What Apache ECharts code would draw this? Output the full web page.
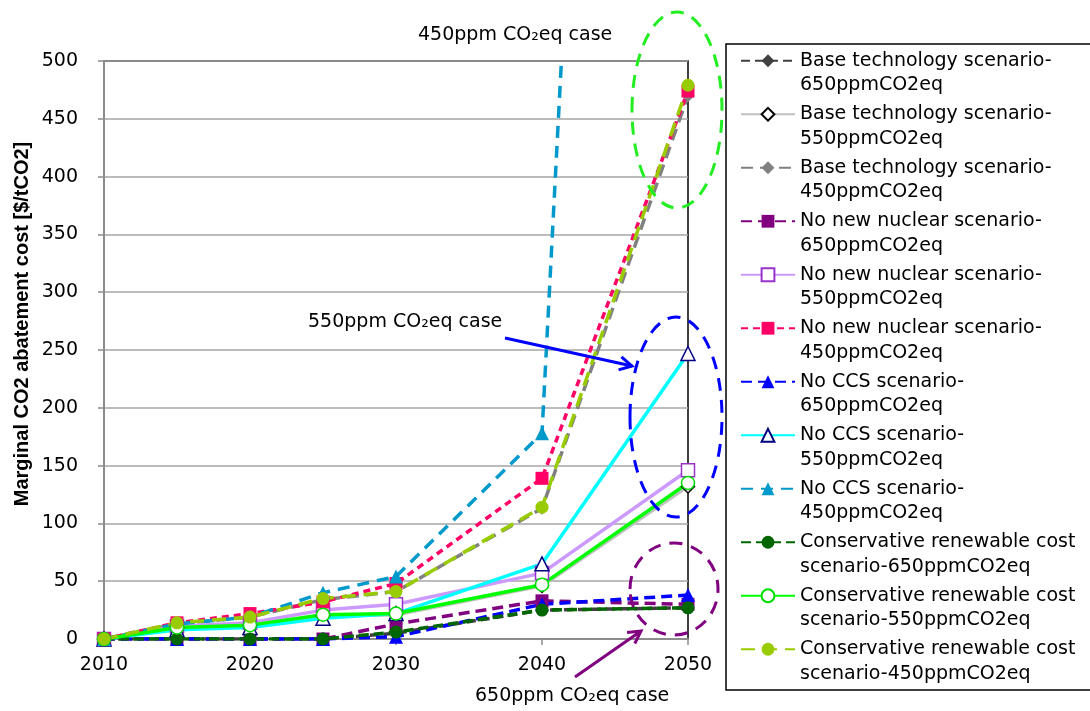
<!DOCTYPE html>
<html>
<head>
<meta charset="utf-8">
<style>
  html, body { margin: 0; padding: 0; background: #fff; }
  #chart { width: 1090px; height: 711px; }
</style>
<script src="https://cdn.jsdelivr.net/npm/echarts@6/dist/echarts.min.js"></script>
</head>
<body>
<div id="chart"></div>
<script>
// Years on the horizontal axis
const years = [2010, 2015, 2020, 2025, 2030, 2040, 2050];
const xTicks = [2010, 2020, 2030, 2040, 2050];

// Marginal CO2 abatement cost [$/tCO2] per scenario
const base650 = [0, 0, 0, 0, 5, 25, 27];
const base550 = [0, 10, 12, 20, 21, 46, 132];
const base450 = [0, 13, 19, 34, 41, 113, 470];
const nuc650  = [0, 0, 0, 0, 13, 33, 30];
const nuc550  = [0, 11, 14, 25, 30, 57, 146];
const nuc450  = [0, 14, 22, 32, 48, 139, 474];
const ccs650  = [0, 0, 0, 0, 2, 30, 38];
const ccs550  = [0, 8, 10, 18, 22, 65, 247];
const ccs450  = [0, 13, 19, 40, 54, 178, 2600];
const ren650  = [0, 0, 0, 0, 6, 25, 27];
const ren550  = [0, 10, 12, 21, 22, 47, 135];
const ren450  = [0, 14, 19, 35, 41, 114, 479];

const FONT = 'DejaVu Sans';

function pairs(vals) { return years.map((y, i) => [y, vals[i]]); }

function mkSeries(name, vals, lineColor, dash, symbol, fill, border) {
  return {
    name: name,
    type: 'line',
    data: pairs(vals),
    symbol: symbol,
    symbolSize: symbol === 'triangle' ? 14 : 13,
    clip: true,
    lineStyle: { color: lineColor, width: 3.5, type: dash },
    itemStyle: { color: fill, borderColor: border, borderWidth: border === fill ? 0 : 1.5 },
    emphasis: { disabled: true }
  };
}

const series = [
  mkSeries('Base technology scenario-650ppmCO2eq', base650, '#404040', [9, 5], 'diamond', '#404040', '#404040'),
  mkSeries('Base technology scenario-550ppmCO2eq', base550, '#c0c0c0', 'solid', 'diamond', '#ffffff', '#000000'),
  mkSeries('Base technology scenario-450ppmCO2eq', base450, '#808080', [12, 7], 'diamond', '#808080', '#808080'),
  mkSeries('No new nuclear scenario-650ppmCO2eq', nuc650, '#800080', [11, 6], 'rect', '#800080', '#800080'),
  mkSeries('No new nuclear scenario-550ppmCO2eq', nuc550, '#cc99ff', 'solid', 'rect', '#ffffff', '#9933cc'),
  mkSeries('No new nuclear scenario-450ppmCO2eq', nuc450, '#ff0066', [7, 5], 'rect', '#ff0066', '#ff0066'),
  mkSeries('No CCS scenario-650ppmCO2eq', ccs650, '#0000ff', [11, 6], 'triangle', '#0000ff', '#0000ff'),
  mkSeries('No CCS scenario-550ppmCO2eq', ccs550, '#00ffff', 'solid', 'triangle', '#ffffff', '#000080'),
  mkSeries('No CCS scenario-450ppmCO2eq', ccs450, '#0099cc', [12, 8], 'triangle', '#0099cc', '#0099cc'),
  mkSeries('Conservative renewable cost scenario-650ppmCO2eq', ren650, '#006600', [10, 5], 'circle', '#006600', '#006600'),
  mkSeries('Conservative renewable cost scenario-550ppmCO2eq', ren550, '#00ff00', 'solid', 'circle', '#ffffff', '#00dd00'),
  mkSeries('Conservative renewable cost scenario-450ppmCO2eq', ren450, '#99cc00', [14, 8], 'circle', '#99cc00', '#99cc00')
];

// Two-line legend labels; a blank leading line keeps the icon level with the first line
function legendText(name) {
  let a, b;
  if (name.indexOf('Conservative renewable cost ') === 0) {
    a = 'Conservative renewable cost';
    b = name.slice('Conservative renewable cost '.length);
  } else {
    const k = name.indexOf('scenario-') + 'scenario-'.length;
    a = name.slice(0, k);
    b = name.slice(k);
  }
  return '\u00a0\n' + a + '\n' + b;
}

function arrowHead(x1, y1, x2, y2, len, color) {
  const a = Math.atan2(y2 - y1, x2 - x1);
  const s = 0.5;
  return {
    type: 'polyline',
    shape: { points: [
      [x2 - len * Math.cos(a - s), y2 - len * Math.sin(a - s)],
      [x2, y2],
      [x2 - len * Math.cos(a + s), y2 - len * Math.sin(a + s)]
    ] },
    style: { stroke: color, lineWidth: 3, fill: null },
    z: 100
  };
}

const annoStyle = { fontFamily: FONT, fontSize: 19, fill: '#000' };

const chart = echarts.init(document.getElementById('chart'), null, { renderer: 'canvas' });
chart.setOption({
  animation: false,
  backgroundColor: '#ffffff',
  grid: {
    left: 104, top: 61, right: 402, bottom: 72,
    show: true, borderColor: '#000', borderWidth: 1.5, backgroundColor: 'transparent'
  },
  xAxis: {
    type: 'value', min: 2010, max: 2050, interval: 10,
    axisLine: { show: true, onZero: false, lineStyle: { color: '#8c8c8c', width: 2 } },
    axisTick: { show: true, inside: false, length: 6, lineStyle: { color: '#8c8c8c', width: 1.5 } },
    axisLabel: { color: '#000', fontFamily: FONT, fontSize: 19, margin: 17,
      formatter: v => xTicks.indexOf(v) >= 0 ? String(v) : '' },
    splitLine: { show: false }
  },
  yAxis: {
    type: 'value', min: 0, max: 500, interval: 50,
    axisLine: { show: true, lineStyle: { color: '#8c8c8c', width: 2 } },
    axisTick: { show: true, inside: false, length: 6, lineStyle: { color: '#8c8c8c', width: 1.5 } },
    axisLabel: { color: '#000', fontFamily: FONT, fontSize: 19, margin: 26 },
    splitLine: { show: true, lineStyle: { color: '#a6a6a6', width: 1.5 } }
  },
  legend: {
    orient: 'vertical',
    left: 740, top: 24,
    padding: 0,
    itemWidth: 54, itemHeight: 16,
    itemGap: -20,
    selectedMode: false,
    formatter: legendText,
    textStyle: { fontFamily: FONT, fontSize: 19, color: '#000', lineHeight: 24.5 },
    data: series.map(s => s.name)
  },
  series: series,
  graphic: [
    { type: 'rect', shape: { x: 726, y: 44, width: 380, height: 646 },
      style: { fill: null, stroke: '#000', lineWidth: 1.5 }, z: 0, silent: true },
    { type: 'text', x: 22, y: 324, rotation: Math.PI / 2,
      style: { text: 'Marginal CO2 abatement cost [$/tCO2]', fontFamily: 'Liberation Sans', fontWeight: 'bold',
        fontSize: 20, fill: '#000', align: 'center', verticalAlign: 'middle' } },
    { type: 'text', x: 418, y: 35, style: Object.assign({ text: '450ppm CO\u2082eq case', verticalAlign: 'middle' }, annoStyle) },
    { type: 'text', x: 308, y: 322, style: Object.assign({ text: '550ppm CO\u2082eq case', verticalAlign: 'middle' }, annoStyle) },
    { type: 'text', x: 475, y: 696, style: Object.assign({ text: '650ppm CO\u2082eq case', verticalAlign: 'middle' }, annoStyle) },
    { type: 'ellipse', shape: { cx: 677, cy: 110, rx: 45, ry: 98 },
      style: { fill: null, stroke: '#22ee22', lineWidth: 3, lineDash: [13, 9] }, z: 100 },
    { type: 'ellipse', shape: { cx: 676, cy: 417, rx: 46, ry: 100 },
      style: { fill: null, stroke: '#0000ff', lineWidth: 3, lineDash: [13, 9] }, z: 100 },
    { type: 'ellipse', shape: { cx: 674, cy: 589, rx: 44, ry: 46 },
      style: { fill: null, stroke: '#800080', lineWidth: 3, lineDash: [13, 9] }, z: 100 },
    { type: 'line', shape: { x1: 505, y1: 338, x2: 632, y2: 366 },
      style: { stroke: '#0000ff', lineWidth: 3 }, z: 100 },
    arrowHead(505, 338, 632, 366, 14, '#0000ff'),
    { type: 'line', shape: { x1: 575, y1: 677, x2: 641, y2: 631 },
      style: { stroke: '#800080', lineWidth: 3 }, z: 100 },
    arrowHead(575, 677, 641, 631, 14, '#800080')
  ]
});
</script>
</body>
</html>
